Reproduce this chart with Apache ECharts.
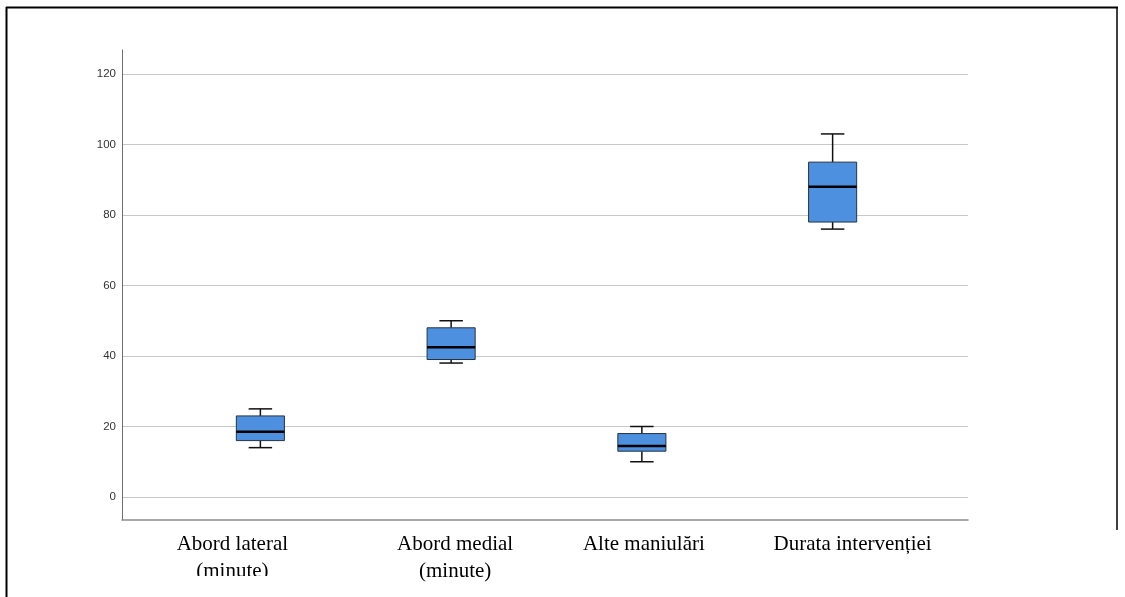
<!DOCTYPE html>
<html>
<head>
<meta charset="utf-8">
<script src="https://cdn.jsdelivr.net/npm/echarts@6.0.0/dist/echarts.min.js"></script>
<style>
  html, body { margin: 0; padding: 0; background: #fff; }
  #chart { width: 1125px; height: 597px; }
</style>
</head>
<body>
<div id="chart"></div>
<script>
// categories and five-number summaries
const categories = ['Abord lateral\n(minute)', 'Abord medial\n(minute)', 'Alte maniulări', 'Durata intervenției'];
const whiskerLow = [14, 38, 10, 76];
const q1 = [16, 39, 13, 78];
const median = [18.5, 42.5, 14.5, 88];
const q3 = [23, 48, 18, 95];
const whiskerHigh = [25, 50, 20, 103];
const yTicks = [0, 20, 40, 60, 80, 100, 120];

// label nudges (px) so the texts sit where they do in the original figure
const labelShift = [-28, 4, 2, 20];

const boxData = categories.map((c, i) => [i, whiskerLow[i], q1[i], median[i], q3[i], whiskerHigh[i]]);

const chart = echarts.init(document.getElementById('chart'));

function renderBox(params, api) {
  const i = api.value(0);
  const band = api.size([1, 0])[0];
  const boxW = band * 0.252;
  const capW = band * 0.123;
  const lo = api.coord([i, api.value(1)]);
  const b1 = api.coord([i, api.value(2)]);
  const md = api.coord([i, api.value(3)]);
  const b3 = api.coord([i, api.value(4)]);
  const hi = api.coord([i, api.value(5)]);
  const x = lo[0];
  const lineStyle = { stroke: '#111', lineWidth: 1.5 };
  return {
    type: 'group',
    children: [
      { type: 'line', shape: { x1: x, y1: hi[1], x2: x, y2: b3[1] }, style: lineStyle },
      { type: 'line', shape: { x1: x, y1: b1[1], x2: x, y2: lo[1] }, style: lineStyle },
      { type: 'line', shape: { x1: x - capW / 2, y1: hi[1], x2: x + capW / 2, y2: hi[1] }, style: lineStyle },
      { type: 'line', shape: { x1: x - capW / 2, y1: lo[1], x2: x + capW / 2, y2: lo[1] }, style: lineStyle },
      {
        type: 'rect',
        shape: { x: x - boxW / 2, y: b3[1], width: boxW, height: b1[1] - b3[1] },
        style: { fill: '#4d90e0', stroke: '#26323f', lineWidth: 1 }
      },
      { type: 'line', shape: { x1: x - boxW / 2, y1: md[1], x2: x + boxW / 2, y2: md[1] }, style: { stroke: '#000', lineWidth: 2.5 } }
    ]
  };
}

const option = {
  animation: false,
  backgroundColor: '#fff',
  grid: [
    // axis lines frame
    { left: 122, right: 157, top: 50, bottom: 77 },
    // gridlines + y labels
    { left: 122, right: 157, top: 74, bottom: 100 },
    // boxes + category labels
    { left: 165, right: 197, top: 74, bottom: 100 }
  ],
  xAxis: [
    {
      gridIndex: 0, type: 'value', min: 0, max: 1,
      axisLine: { show: true, lineStyle: { color: '#8c8c8c', width: 1.5 } },
      axisTick: { show: false }, axisLabel: { show: false }, splitLine: { show: false }
    },
    {
      gridIndex: 1, type: 'value', min: 0, max: 1, show: false
    },
    {
      gridIndex: 2, type: 'category', data: categories.map((c, i) => ({
        value: c,
        textStyle: {
          padding: labelShift[i] < 0 ? [0, -2 * labelShift[i], 0, 0] : [0, 0, 0, 2 * labelShift[i]]
        }
      })),
      axisLine: { show: false }, axisTick: { show: false },
      axisLabel: {
        interval: 0, margin: 34,
        fontFamily: '"Liberation Serif", "Times New Roman", serif',
        fontSize: 21, lineHeight: 27, color: '#000'
      }
    }
  ],
  yAxis: [
    {
      gridIndex: 0, type: 'value', min: 0, max: 1,
      axisLine: { show: true, lineStyle: { color: '#6e6e6e', width: 1 } },
      axisTick: { show: false }, axisLabel: { show: false }, splitLine: { show: false }
    },
    {
      gridIndex: 1, type: 'value', min: yTicks[0], max: yTicks[yTicks.length - 1], interval: 20,
      axisLine: { show: false }, axisTick: { show: false },
      axisLabel: { margin: 6, fontFamily: 'Arial, "Liberation Sans", sans-serif', fontSize: 11.5, color: '#333' },
      splitLine: { show: true, lineStyle: { color: '#c8c8c8', width: 1 } }
    },
    {
      gridIndex: 2, type: 'value', min: yTicks[0], max: yTicks[yTicks.length - 1], show: false
    }
  ],
  graphic: [
    // outer frame of the original figure
    { type: 'line', shape: { x1: 6, y1: 7.5, x2: 1118, y2: 7.5 }, style: { stroke: '#000', lineWidth: 2 } },
    { type: 'line', shape: { x1: 6.5, y1: 7, x2: 6.5, y2: 597 }, style: { stroke: '#000', lineWidth: 2 } },
    { type: 'line', shape: { x1: 1117, y1: 7, x2: 1117, y2: 530 }, style: { stroke: '#000', lineWidth: 1.5 } },
    // the first label's second line is clipped in the original
    { type: 'rect', z: 100, shape: { x: 180, y: 576, width: 110, height: 20 }, style: { fill: '#fff' } }
  ],
  series: [
    {
      type: 'custom',
      xAxisIndex: 2,
      yAxisIndex: 2,
      renderItem: renderBox,
      encode: { x: 0, y: [1, 2, 3, 4, 5] },
      data: boxData
    }
  ]
};

chart.setOption(option);
</script>
</body>
</html>
